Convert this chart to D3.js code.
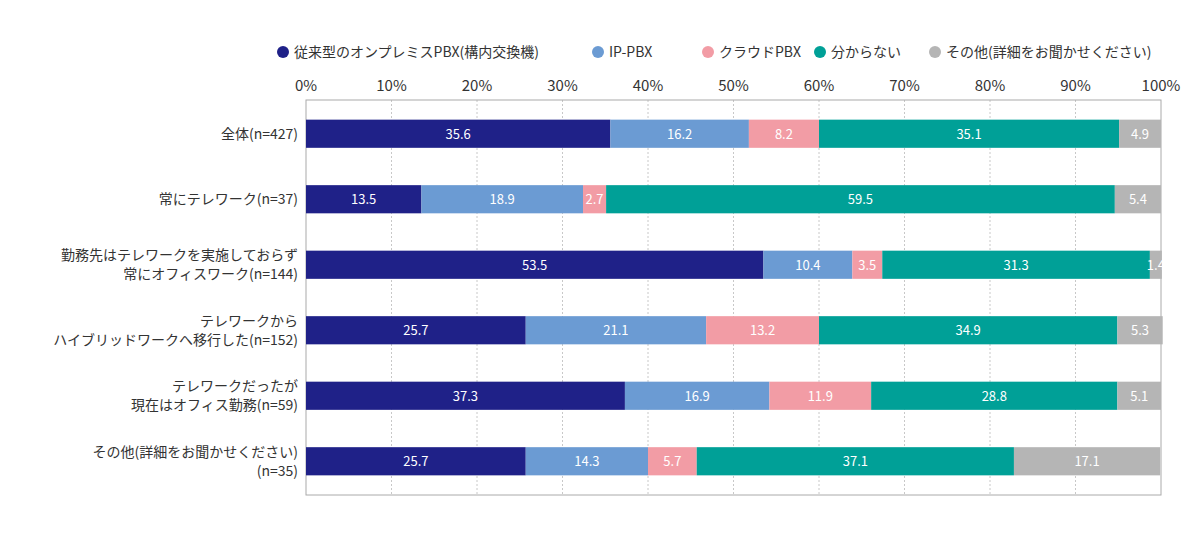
<!DOCTYPE html>
<html><head><meta charset="utf-8">
<script src="https://cdn.jsdelivr.net/npm/d3@7"></script>
<style>body{margin:0;background:#fff;font-family:"Noto Sans CJK JP","Noto Sans",sans-serif;}</style>
</head><body><div id="chart"></div>
<script>
var categories = [
  ["全体(n=427)"],
  ["常にテレワーク(n=37)"],
  ["勤務先はテレワークを実施しておらず", "常にオフィスワーク(n=144)"],
  ["テレワークから", "ハイブリッドワークへ移行した(n=152)"],
  ["テレワークだったが", "現在はオフィス勤務(n=59)"],
  ["その他(詳細をお聞かせください)", "(n=35)"]
];
var seriesNames = ["従来型のオンプレミスPBX(構内交換機)", "IP-PBX", "クラウドPBX", "分からない", "その他(詳細をお聞かせください)"];
var colors = ["#1f2188", "#6b9bd3", "#f29ca5", "#00a097", "#b5b5b5"];
var values = [
  [35.6, 16.2, 8.2, 35.1, 4.9],
  [13.5, 18.9, 2.7, 59.5, 5.4],
  [53.5, 10.4, 3.5, 31.3, 1.4],
  [25.7, 21.1, 13.2, 34.9, 5.3],
  [37.3, 16.9, 11.9, 28.8, 5.1],
  [25.7, 14.3, 5.7, 37.1, 17.1]
];
var ticks = [0, 10, 20, 30, 40, 50, 60, 70, 80, 90, 100];

var width = 1200, height = 541;
var m = {left: 306, right: 39, top: 100, bottom: 46};
var svg = d3.select("#chart").append("svg").attr("width", width).attr("height", height);

var x = d3.scaleLinear().domain([0, 100]).range([m.left, width - m.right]);
var y = d3.scaleBand().domain(d3.range(categories.length))
          .range([m.top, height - m.bottom]).paddingInner(0.57).paddingOuter(0.3);

// grid
svg.selectAll(".grid").data(ticks.slice(1, -1)).enter().append("line")
   .attr("x1", d => x(d)).attr("x2", d => x(d))
   .attr("y1", m.top).attr("y2", height - m.bottom)
   .attr("stroke", "#c8c8c8").attr("stroke-dasharray", "2,2");
svg.append("rect").attr("x", x(0)).attr("y", m.top)
   .attr("width", x(100) - x(0)).attr("height", height - m.bottom - m.top)
   .attr("fill", "none").attr("stroke", "#aaa");

// top axis labels
svg.selectAll(".tick").data(ticks).enter().append("text")
   .attr("x", d => x(d)).attr("y", 91).attr("text-anchor", "middle")
   .attr("font-size", 15).attr("fill", "#333").text(d => d + "%");

// bars
var rows = svg.selectAll(".row").data(values).enter().append("g")
   .attr("transform", (d, i) => "translate(0," + y(i) + ")");
rows.each(function(d) {
  var g = d3.select(this), acc = 0;
  d.forEach(function(v, j) {
    g.append("rect").attr("x", x(acc)).attr("width", x(acc + v) - x(acc))
     .attr("height", y.bandwidth()).attr("fill", colors[j]);
    g.append("text").attr("x", x(acc + v / 2)).attr("y", y.bandwidth() / 2 + 5)
     .attr("text-anchor", "middle").attr("font-size", 13).attr("fill", "#fff").text(v);
    acc += v;
  });
});

// category labels
categories.forEach(function(lines, i) {
  var cy = y(i) + y.bandwidth() / 2;
  var t = svg.append("text").attr("text-anchor", "end").attr("font-size", 14).attr("fill", "#333");
  lines.forEach(function(l, k) {
    t.append("tspan").attr("x", 298)
     .attr("y", cy + 5 + (k - (lines.length - 1) / 2) * 19).text(l);
  });
});

// legend
var lx = 283;
var legendPos = [283, 598, 708, 820, 935];
seriesNames.forEach(function(n, j) {
  svg.append("circle").attr("cx", legendPos[j]).attr("cy", 52).attr("r", 6).attr("fill", colors[j]);
  svg.append("text").attr("x", legendPos[j] + 11).attr("y", 57).attr("font-size", 14)
     .attr("fill", "#333").text(n);
});
</script></body></html>
